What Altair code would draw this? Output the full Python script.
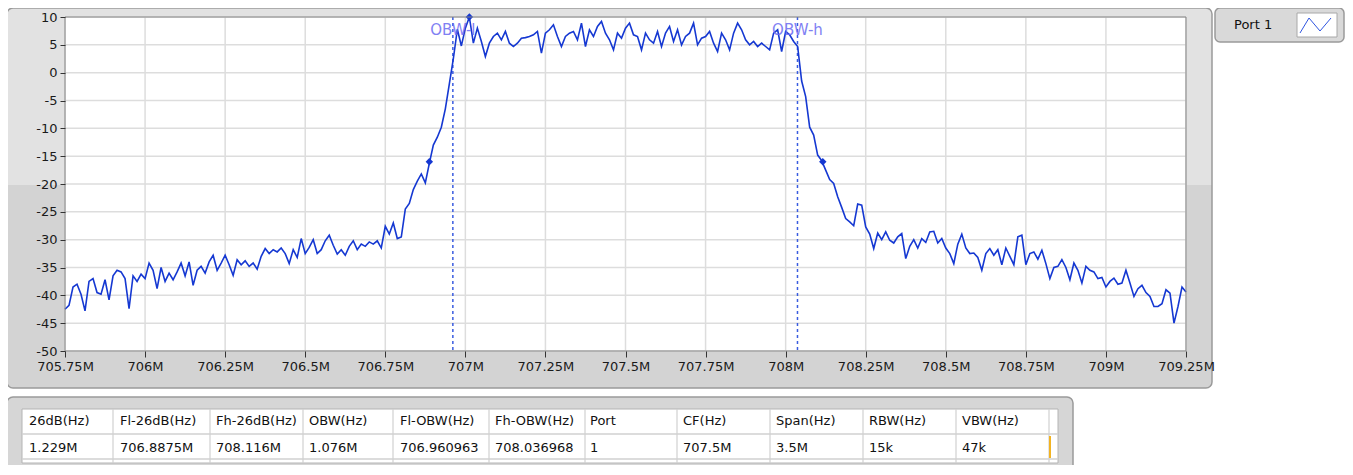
import altair as alt
import pandas as pd

# ---------------- data ----------------
F_START = 705.75          # MHz, first trace bin
F_STEP = 0.0125           # MHz between trace bins

skirt_left = [
    -42.5, -41.8, -38.5, -38.0, -39.8, -42.8, -37.5, -37.0, -39.5, -39.8,
    -37.2, -40.8, -36.5, -35.5, -35.8, -37.0, -42.4, -36.5, -37.5, -36.2,
    -37.0, -34.2, -35.5, -38.8, -35.0, -37.5, -36.0, -37.2, -35.8, -34.2,
    -36.5, -34.0, -38.2, -35.5, -34.8, -36.0, -34.0, -32.8, -35.5, -34.2,
    -32.8, -34.5, -36.4, -33.6, -34.5, -33.8, -34.8, -34.2, -35.3, -33.0,
    -31.6, -32.5, -31.8, -32.2, -31.5, -32.5, -34.3, -31.8, -33.2, -29.8,
    -32.5, -31.4, -30.0, -32.5, -31.8, -30.2, -29.2, -31.0, -32.6, -31.8,
    -32.8, -31.2, -30.2, -31.8, -30.8, -31.2, -30.4, -30.8, -30.2, -31.5,
    -27.6,
]
rise_left = [
    -29.0, -27.0, -29.8, -29.5, -24.5, -23.5, -21.0, -19.5, -18.2, -19.8,
    -16.3, -13.0, -11.6, -9.8, -6.5, -2.0, 2.5, 7.8, 4.8, 8.0,
]
in_band = [
    10.0, 5.3, 8.0, 5.6, 2.9, 5.3, 6.5, 7.1, 5.9, 7.4,
    5.3, 4.7, 5.3, 6.2, 6.3, 6.5, 6.8, 7.4, 3.5, 7.1,
    7.7, 8.6, 6.5, 4.7, 6.5, 7.1, 7.4, 5.9, 8.9, 4.7,
    7.7, 6.5, 8.3, 9.2, 7.1, 5.9, 4.1, 7.1, 6.2, 8.0,
    8.9, 6.8, 6.5, 4.1, 7.1, 5.9, 5.3, 7.4, 4.7, 7.1,
    8.3, 5.6, 7.7, 5.0, 6.5, 7.1, 8.9, 5.0, 6.2, 6.5,
    7.4, 5.3, 3.8, 7.1, 5.9, 4.1, 7.1, 8.9, 7.7, 5.9,
    5.0, 5.6, 4.7, 5.3, 4.7, 4.1, 7.1, 7.7, 3.8, 7.4,
    6.8, 5.6, 4.7,
]
fall_right = [
    -1.5, -4.3, -9.8, -11.2, -14.8, -15.8, -17.5, -19.2, -19.9, -22.3,
    -24.2, -26.2, -26.8, -27.5, -23.6, -23.8, -27.7,
]
skirt_right = [
    -29.0, -31.6, -28.8, -30.0, -28.6, -30.1, -30.6, -29.5, -28.9, -33.4,
    -31.2, -30.0, -31.5, -29.8, -30.5, -28.6, -28.5, -30.6, -29.8, -31.5,
    -32.5, -34.3, -30.8, -29.0, -31.5, -32.5, -32.4, -33.2, -35.5, -32.5,
    -31.6, -32.8, -31.8, -34.5, -31.5, -33.0, -34.5, -29.5, -29.2, -34.5,
    -32.5, -32.2, -33.5, -31.9, -34.3, -37.0, -35.0, -34.8, -33.6, -35.0,
    -37.2, -34.2, -35.5, -37.8, -34.8, -35.5, -35.8, -37.0, -36.8, -38.5,
    -37.5, -36.9, -38.0, -37.8, -35.5, -37.8, -40.2, -38.8, -38.2, -39.5,
    -40.2, -42.0, -42.0, -41.5, -39.0, -39.6, -45.0, -42.0, -38.5, -39.4,
]

x_ticks = [705.75, 706.0, 706.25, 706.5, 706.75, 707.0, 707.25, 707.5,
           707.75, 708.0, 708.25, 708.5, 708.75, 709.0, 709.25]
y_ticks = [-50, -45, -40, -35, -30, -25, -20, -15, -10, -5, 0, 5, 10]

obw_freqs = [706.960963, 708.036968]
obw_names = ["OBW-l", "OBW-h"]
db26_freqs = [706.8875, 708.116]
series_name = "Port 1"

table_headers = ["26dB(Hz)", "Fl-26dB(Hz)", "Fh-26dB(Hz)", "OBW(Hz)", "Fl-OBW(Hz)",
                 "Fh-OBW(Hz)", "Port", "CF(Hz)", "Span(Hz)", "RBW(Hz)", "VBW(Hz)"]
table_values = ["1.229M", "706.8875M", "708.116M", "1.076M", "706.960963M",
                "708.036968M", "1", "707.5M", "3.5M", "15k", "47k"]

# ---------------- derived tables ----------------
level_db = skirt_left + rise_left + in_band + fall_right + skirt_right
freq_mhz = [F_START + i * F_STEP for i in range(len(level_db))]
trace = pd.DataFrame({"f": freq_mhz, "v": level_db})

peak_db = max(level_db)
peak_f = freq_mhz[level_db.index(peak_db)]
markers = pd.DataFrame({"f": [peak_f] + db26_freqs,
                        "v": [peak_db, peak_db - 26, peak_db - 26]})
obw = pd.DataFrame({"f": obw_freqs, "name": obw_names})

# ---------------- layout / style ----------------
W, H = 1121, 334
FONT = "DejaVu Sans"
TRACE = "#1538d2"
one = pd.DataFrame({"k": [0]})

X = alt.X("f:Q", scale=alt.Scale(domain=[705.75, 709.25], nice=False, zero=False),
          axis=alt.Axis(values=x_ticks, labelExpr="datum.value + 'M'", grid=False,
                        domain=False, tickSize=6, tickColor="#333333", tickWidth=1,
                        labelFont=FONT, labelFontSize=13, labelColor="#1a1a1a",
                        labelPadding=3, labelFlush=False, labelOverlap=False,
                        title=None, zindex=1))
Y = alt.Y("v:Q", scale=alt.Scale(domain=[-50, 10], nice=False, zero=False),
          axis=alt.Axis(values=y_ticks, labelExpr="'' + datum.value", grid=False,
                        domain=False, tickSize=5, tickColor="#333333", tickWidth=1,
                        labelFont=FONT, labelFontSize=13, labelColor="#1a1a1a",
                        labelPadding=3, labelFlush=False, labelOverlap=False,
                        title=None, zindex=1))
PX = alt.X("px:Q", scale=None, axis=None)
PY = alt.Y("py:Q", scale=None, axis=None)


def box(x1, x2, y1, y2, **kw):
    return alt.Chart(one).mark_rect(**kw).encode(
        x=alt.value(x1), x2=alt.value(x2), y=alt.value(y1), y2=alt.value(y2))


def hline(y, x1, x2, color, width=1.0):
    return alt.Chart(one).mark_rule(color=color, strokeWidth=width).encode(
        x=alt.value(x1), x2=alt.value(x2), y=alt.value(y), y2=alt.value(y))


layers = []
# graph panel
layers.append(box(-58, 1147, -9, 371, fill="#d3d3d3", cornerRadius=6))
layers.append(box(-58, 1147, -9, 168, fill="#e2e2e2",
                  cornerRadiusTopLeft=6, cornerRadiusTopRight=6))
layers.append(box(-58, 1147, -9, 371, fillOpacity=0, stroke="#9a9a9a",
                  strokeWidth=1.5, cornerRadius=6))
layers.append(box(0, W, 0, H, fill="#ffffff"))

# grid
layers.append(alt.Chart(pd.DataFrame({"f": x_ticks})).mark_rule(
    color="#dddddd", strokeWidth=1.5).encode(x=X, y=alt.value(0), y2=alt.value(H)))
layers.append(alt.Chart(pd.DataFrame({"v": y_ticks})).mark_rule(
    color="#dddddd", strokeWidth=1.5).encode(y=Y, x=alt.value(0), x2=alt.value(W)))

# OBW cursors
layers.append(alt.Chart(obw).mark_rule(color="#3a5ce0", strokeWidth=1.5,
                                       strokeDash=[3, 3]).encode(
    x=X, y=alt.value(0), y2=alt.value(H)))

# trace
layers.append(alt.Chart(trace).mark_line(color=TRACE, strokeWidth=1.6).encode(x=X, y=Y))
layers.append(alt.Chart(markers).mark_point(filled=True, size=55, color=TRACE,
                                            shape="diamond", opacity=1).encode(x=X, y=Y))

# OBW labels
layers.append(alt.Chart(obw).mark_text(font=FONT, fontSize=15, color="#6b6bf2",
                                       opacity=0.85, dy=13, align="center",
                                       baseline="middle").encode(
    x=X, y=alt.value(0), text="name:N"))

# plot border
layers.append(box(0, W, 0, H, fillOpacity=0, stroke="#858585", strokeWidth=1))

# legend box
layers.append(box(1150, 1279, -9, 25, fill="#d9d9d9", stroke="#9a9a9a",
                  strokeWidth=1.5, cornerRadius=5))
layers.append(alt.Chart(pd.DataFrame({"px": [1169], "py": [8], "label": [series_name]}))
              .mark_text(font=FONT, fontSize=13, color="#111111", align="left",
                         baseline="middle").encode(x=PX, y=PY, text="label:N"))
layers.append(box(1232, 1272, -4, 20, fill="#ffffff", stroke="#a8a8a8", strokeWidth=1))
layers.append(alt.Chart(pd.DataFrame({"px": [1235, 1244, 1255, 1266],
                                      "py": [16, 1, 14, 1], "o": [0, 1, 2, 3]}))
              .mark_line(color="#2f55e0", strokeWidth=1).encode(x=PX, y=PY, order="o:Q"))

# results table
col_sep = [48, 145, 238, 328, 424, 520, 612, 705, 798, 891, 984]
col_txt = [-36, 55, 151, 244, 335, 430, 525, 618, 711, 804, 897]
layers.append(box(-58, 1008, 380, 472, fill="#d6d6d6", stroke="#9a9a9a",
                  strokeWidth=1.5, cornerRadius=6))
layers.append(box(-43, 993, 392, 446, fill="#ffffff", stroke="#b4b4b4", strokeWidth=1))
layers.append(hline(417, -43, 993, "#d0d0d0", 1.5))
layers.append(hline(442, -43, 993, "#d0d0d0", 1.5))
layers.append(alt.Chart(pd.DataFrame({"px": col_sep})).mark_rule(
    color="#d0d0d0", strokeWidth=1.2).encode(x=PX, y=alt.value(392), y2=alt.value(446)))
layers.append(alt.Chart(one).mark_rule(color="#f2b322", strokeWidth=2).encode(
    x=alt.value(985), x2=alt.value(985), y=alt.value(419), y2=alt.value(441)))
layers.append(alt.Chart(pd.DataFrame({"px": col_txt, "py": [404] * 11,
                                      "label": table_headers}))
              .mark_text(font=FONT, fontSize=13, color="#111111", align="left",
                         baseline="middle", limit=89, ellipsis="\u200b")
              .encode(x=PX, y=PY, text="label:N"))
layers.append(alt.Chart(pd.DataFrame({"px": col_txt, "py": [431] * 11,
                                      "label": table_values}))
              .mark_text(font=FONT, fontSize=13, color="#111111", align="left",
                         baseline="middle", limit=89, ellipsis="\u200b")
              .encode(x=PX, y=PY, text="label:N"))

chart = alt.layer(*layers).properties(
    width=W, height=H,
    padding={"left": 57, "top": 9, "right": 159, "bottom": 114},
    autosize=alt.AutoSizeParams(type="none"),
    background="#ffffff",
).configure_view(strokeWidth=0)

chart.save("out.html", embed_options={"renderer": "svg", "actions": False})
